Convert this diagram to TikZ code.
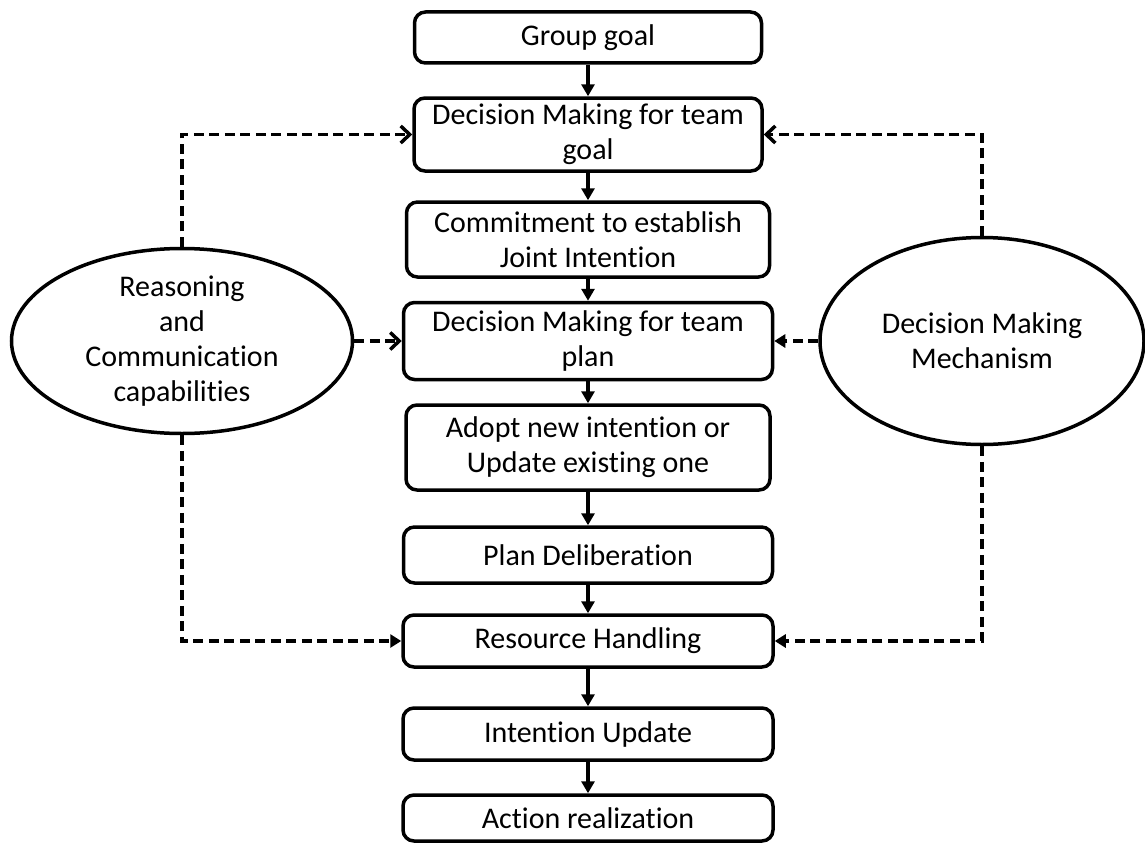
\documentclass[tikz,border=0pt]{standalone}
\usepackage{fontspec}
\setmainfont{Carlito}[Ligatures=NoCommon]
\usetikzlibrary{shapes.geometric,arrows.meta}
\begin{document}
\begin{tikzpicture}[x=1pt,y=-1pt,
  txt/.style={font=\fontsize{30}{35}\selectfont, align=center},
  stepbox/.style={txt, draw, line width=3.5pt, rounded corners=11pt, inner sep=0pt},
  oval/.style={txt, draw, ellipse, line width=3.5pt, inner sep=0pt},
  flow/.style={line width=3.5pt, -{Triangle[length=12pt,width=13pt]}},
  dashopen/.style={line width=3.5pt, dash pattern=on 10pt off 5.5pt, -{Straight Barb[length=9pt,width=17pt,line width=3.5pt]}},
  dashfill/.style={line width=3.5pt, dash pattern=on 10pt off 5.5pt, -{Triangle[length=11pt,width=13pt]}}
]
\useasboundingbox (0,0) rectangle (1145,843);
\node[stepbox, minimum width=347pt, minimum height=51pt] (b1) at (588,37.5) {Group goal};
\node[stepbox, minimum width=348pt, minimum height=73pt] (b2) at (588,134.5) {Decision Making for team\\goal};
\node[stepbox, minimum width=363pt, minimum height=75pt] (b3) at (588,239.5) {Commitment to establish\\Joint Intention};
\node[stepbox, minimum width=369pt, minimum height=77pt] (b4) at (588,341) {Decision Making for team\\plan};
\node[stepbox, minimum width=364pt, minimum height=85pt] (b5) at (588,447.5) {Adopt new intention or\\Update existing one};
\node[stepbox, minimum width=369pt, minimum height=56pt] (b6) at (588,555) {Plan Deliberation};
\node[stepbox, minimum width=370pt, minimum height=52pt] (b7) at (588,641) {Resource Handling};
\node[stepbox, minimum width=370pt, minimum height=52pt] (b8) at (588,734) {Intention Update};
\node[stepbox, minimum width=370pt, minimum height=46pt] (b9) at (588,818) {Action realization};

\node[oval, minimum width=341pt, minimum height=185pt] (L) at (182,341) {Reasoning\\and\\Communication\\capabilities};
\node[oval, minimum width=324pt, minimum height=207pt] (R) at (982,341) {Decision Making\\Mechanism};

\draw[flow] (b1.south) -- (b2.north);
\draw[flow] (b2.south) -- (b3.north);
\draw[flow] (b3.south) -- (b4.north);
\draw[flow] (b4.south) -- (b5.north);
\draw[flow] (b5.south) -- (b6.north);
\draw[flow] (b6.south) -- (b7.north);
\draw[flow] (b7.south) -- (b8.north);
\draw[flow] (b8.south) -- (b9.north);

\draw[dashopen] (L.north) |- (b2.west);
\draw[dashopen] (L.east) -- (b4.west);
\draw[dashfill] (L.south) |- (b7.west);
\draw[dashopen] (R.north) |- (b2.east);
\draw[dashfill] (R.west) -- (b4.east);
\draw[dashfill] (R.south) |- (b7.east);
\end{tikzpicture}
\end{document}
